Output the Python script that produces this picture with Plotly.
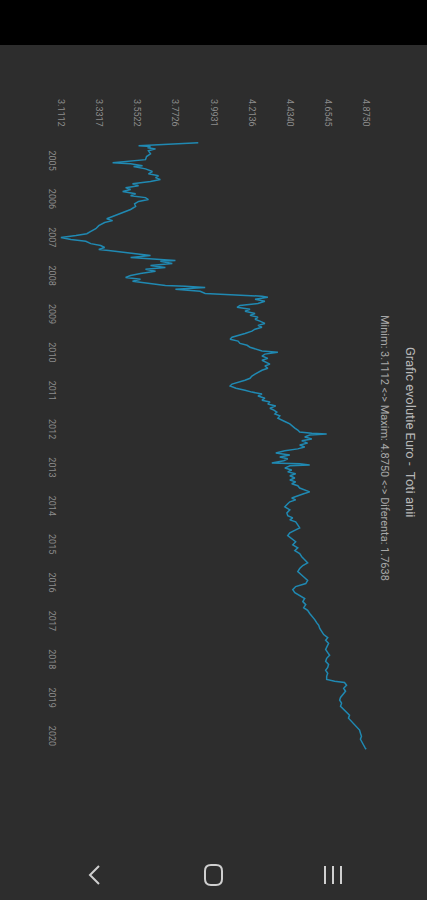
import plotly.graph_objects as go

# ---- data (EUR/RON) ----
years = [2005.00, 2005.03, 2005.05, 2005.08, 2005.10, 2005.13, 2005.16, 2005.21, 2005.29, 2005.36,
         2005.44, 2005.49, 2005.52, 2005.55, 2005.60, 2005.62, 2005.68, 2005.75, 2005.81, 2005.86,
         2005.91, 2005.96, 2006.01, 2006.07, 2006.12, 2006.17, 2006.22, 2006.27, 2006.33, 2006.38,
         2006.43, 2006.48, 2006.53, 2006.59, 2006.66, 2006.74, 2006.82, 2006.87, 2006.92, 2006.98,
         2007.03, 2007.08, 2007.16, 2007.24, 2007.31, 2007.37, 2007.42, 2007.47, 2007.52, 2007.57,
         2007.63, 2007.68, 2007.73, 2007.78, 2007.81, 2007.86, 2007.91, 2007.94, 2007.99, 2008.02,
         2008.07, 2008.09, 2008.15, 2008.20, 2008.25, 2008.30, 2008.35, 2008.41, 2008.46, 2008.51,
         2008.56, 2008.61, 2008.67, 2008.72, 2008.74, 2008.77, 2008.82, 2008.87, 2008.93, 2008.95,
         2008.98, 2009.00, 2009.03, 2009.08, 2009.13, 2009.19, 2009.24, 2009.29, 2009.34, 2009.39,
         2009.45, 2009.50, 2009.55, 2009.60, 2009.65, 2009.71, 2009.76, 2009.81, 2009.86, 2009.91,
         2009.97, 2010.02, 2010.07, 2010.12, 2010.17, 2010.23, 2010.28, 2010.33, 2010.38, 2010.43,
         2010.46, 2010.51, 2010.56, 2010.62, 2010.67, 2010.72, 2010.77, 2010.82, 2010.88, 2010.93,
         2010.98, 2011.03, 2011.08, 2011.14, 2011.19, 2011.24, 2011.29, 2011.34, 2011.40, 2011.45,
         2011.50, 2011.55, 2011.60, 2011.66, 2011.71, 2011.76, 2011.81, 2011.86, 2011.92, 2011.97,
         2012.02, 2012.07, 2012.12, 2012.18, 2012.23, 2012.28, 2012.33, 2012.38, 2012.44, 2012.49,
         2012.54, 2012.57, 2012.59, 2012.62, 2012.67, 2012.72, 2012.77, 2012.83, 2012.88, 2012.93,
         2012.98, 2013.03, 2013.09, 2013.14, 2013.19, 2013.24, 2013.29, 2013.35, 2013.37, 2013.40,
         2013.42, 2013.48, 2013.53, 2013.58, 2013.63, 2013.68, 2013.74, 2013.79, 2013.84, 2013.89,
         2013.94, 2014.00, 2014.05, 2014.10, 2014.15, 2014.20, 2014.26, 2014.31, 2014.36, 2014.41,
         2014.49, 2014.57, 2014.65, 2014.72, 2014.78, 2014.83, 2014.88, 2014.96, 2015.04, 2015.09,
         2015.17, 2015.24, 2015.32, 2015.40, 2015.48, 2015.56, 2015.63, 2015.71, 2015.79, 2015.87,
         2015.95, 2016.02, 2016.10, 2016.18, 2016.26, 2016.34, 2016.41, 2016.49, 2016.57, 2016.65,
         2016.73, 2016.80, 2016.88, 2016.96, 2017.04, 2017.12, 2017.19, 2017.27, 2017.35, 2017.43,
         2017.51, 2017.58, 2017.66, 2017.74, 2017.82, 2017.90, 2017.97, 2018.05, 2018.13, 2018.21,
         2018.29, 2018.36, 2018.44, 2018.52, 2018.60, 2018.68, 2018.75, 2018.83, 2018.91, 2018.99,
         2019.04, 2019.07, 2019.14, 2019.22, 2019.30, 2019.38, 2019.46, 2019.53, 2019.61, 2019.69,
         2019.77, 2019.85, 2019.92, 2020.00, 2020.08, 2020.16, 2020.24, 2020.31, 2020.39, 2020.47,
         2020.55, 2020.63, 2020.70, 2020.78, 2020.81]

rates = [3.905, 3.773, 3.629, 3.560, 3.629, 3.612, 3.658, 3.617, 3.629, 3.606,
         3.600, 3.485, 3.410, 3.514, 3.583, 3.531, 3.600, 3.640, 3.617, 3.675,
         3.658, 3.686, 3.629, 3.525, 3.560, 3.485, 3.514, 3.468, 3.543, 3.514,
         3.600, 3.617, 3.560, 3.537, 3.543, 3.514, 3.468, 3.433, 3.399, 3.376,
         3.410, 3.364, 3.330, 3.313, 3.284, 3.261, 3.198, 3.1112, 3.169, 3.255,
         3.284, 3.341, 3.364, 3.330, 3.387, 3.485, 3.571, 3.629, 3.514, 3.629,
         3.773, 3.686, 3.755, 3.629, 3.715, 3.600, 3.658, 3.571, 3.514, 3.485,
         3.571, 3.525, 3.629, 3.715, 3.830, 3.945, 3.773, 3.916, 3.945, 4.060,
         4.175, 4.273, 4.307, 4.233, 4.290, 4.250, 4.146, 4.129, 4.204, 4.175,
         4.233, 4.204, 4.250, 4.233, 4.261, 4.290, 4.250, 4.273, 4.233, 4.215,
         4.175, 4.135, 4.100, 4.089, 4.135, 4.146, 4.187, 4.204, 4.238, 4.273,
         4.365, 4.290, 4.273, 4.307, 4.273, 4.296, 4.319, 4.290, 4.307, 4.273,
         4.250, 4.233, 4.215, 4.204, 4.175, 4.135, 4.100, 4.089, 4.123, 4.175,
         4.215, 4.273, 4.250, 4.290, 4.273, 4.319, 4.307, 4.353, 4.319, 4.342,
         4.359, 4.348, 4.376, 4.365, 4.394, 4.411, 4.434, 4.445, 4.463, 4.480,
         4.491, 4.561, 4.647, 4.549, 4.520, 4.561, 4.503, 4.537, 4.491, 4.520,
         4.480, 4.405, 4.353, 4.434, 4.376, 4.422, 4.399, 4.330, 4.491, 4.549,
         4.434, 4.405, 4.445, 4.422, 4.468, 4.434, 4.463, 4.434, 4.468, 4.445,
         4.480, 4.491, 4.520, 4.549, 4.514, 4.480, 4.445, 4.468, 4.434, 4.422,
         4.405, 4.434, 4.417, 4.422, 4.451, 4.434, 4.468, 4.480, 4.491, 4.468,
         4.434, 4.422, 4.445, 4.468, 4.451, 4.480, 4.463, 4.491, 4.503, 4.520,
         4.537, 4.509, 4.491, 4.480, 4.503, 4.520, 4.537, 4.526, 4.468, 4.451,
         4.463, 4.491, 4.520, 4.509, 4.526, 4.514, 4.537, 4.549, 4.566, 4.578,
         4.589, 4.601, 4.607, 4.618, 4.630, 4.653, 4.641, 4.658, 4.647, 4.641,
         4.653, 4.664, 4.647, 4.641, 4.658, 4.653, 4.641, 4.653, 4.647, 4.647,
         4.693, 4.750, 4.762, 4.745, 4.756, 4.739, 4.727, 4.722, 4.733, 4.727,
         4.745, 4.762, 4.779, 4.773, 4.791, 4.808, 4.825, 4.837, 4.842, 4.848,
         4.842, 4.854, 4.860, 4.870, 4.8750]

value_ticks = [3.1112, 3.3317, 3.5522, 3.7726, 3.9931, 4.2136, 4.4340, 4.6545, 4.8750]
value_labels = ["3.1112", "3.3317", "3.5522", "3.7726", "3.9931", "4.2136", "4.4340", "4.6545", "4.8750"]
year_labels = [str(y) for y in range(2005, 2021)]
year_ticks = [y + 0.5 for y in range(2005, 2021)]

title_text = "Grafic evolutie Euro -  Toti anii"
subtitle_text = "Minim: 3.1112 <-> Maxim: 4.8750 <-> Diferenta: 1.7638"

# ---- layout geometry (page pixels) ----
W, H = 427, 900
L, R, T, B = 60, 367, 142, 750
BG = "#2d2d2d"


def px(x, y):
    return (x - L) / (R - L), (B - y) / (B - T)


fig = go.Figure()
fig.add_trace(go.Scatter(
    x=rates, y=years, mode="lines",
    line=dict(color="#2089b2", width=1.5),
    hoverinfo="skip", showlegend=False,
))

tick_font = dict(family="Roboto, sans-serif", size=9, color="#8c8c8c")

fig.update_layout(
    width=W, height=H,
    margin=dict(l=L, r=W - R, t=T, b=H - B, pad=0),
    paper_bgcolor=BG, plot_bgcolor=BG,
    showlegend=False,
    xaxis=dict(
        side="top", range=[3.106, 4.880],
        tickvals=value_ticks, ticktext=value_labels,
        tickangle=90, tickfont=tick_font, ticks="",
        ticklabelstandoff=13,
        showgrid=False, zeroline=False, showline=False,
    ),
    yaxis=dict(
        range=[2020.83, 2004.98],
        tickvals=year_ticks, ticktext=year_labels,
        tickangle=90, tickfont=tick_font, ticks="",
        ticklabelstandoff=1,
        showgrid=False, zeroline=False, showline=False,
    ),
)

# status bar
x0, y0 = px(0, 0)
x1, y1 = px(W, 45)
fig.add_shape(type="rect", xref="paper", yref="paper", x0=x0, y0=y0, x1=x1, y1=y1,
              fillcolor="#000000", line=dict(width=0), layer="below")

# title and subtitle (rotated)
tx, ty = px(411, 432)
fig.add_annotation(xref="paper", yref="paper", x=tx, y=ty, text=title_text, showarrow=False,
                   textangle=90, font=dict(family="Roboto, sans-serif", size=13, color="#b8b8b8"),
                   xanchor="center", yanchor="middle")
sx, sy = px(385, 448)
fig.add_annotation(xref="paper", yref="paper", x=sx, y=sy, text=subtitle_text, showarrow=False,
                   textangle=90, font=dict(family="Roboto, sans-serif", size=11, color="#a8a8a8"),
                   xanchor="center", yanchor="middle")

# navigation bar icons
nav = dict(color="#cfcfcf", width=2)


def path(points, close=False):
    s = ""
    for i, (x, y) in enumerate(points):
        X, Y = px(x, y)
        s += ("M" if i == 0 else "L") + f"{X},{Y} "
    return s + ("Z" if close else "")


def rounded_rect(xa, ya, xb, yb, r):
    P = lambda x, y: "{},{}".format(*px(x, y))
    s = f"M{P(xa + r, ya)} L{P(xb - r, ya)} Q{P(xb, ya)} {P(xb, ya + r)} "
    s += f"L{P(xb, yb - r)} Q{P(xb, yb)} {P(xb - r, yb)} "
    s += f"L{P(xa + r, yb)} Q{P(xa, yb)} {P(xa, yb - r)} "
    s += f"L{P(xa, ya + r)} Q{P(xa, ya)} {P(xa + r, ya)} Z"
    return s


fig.add_shape(type="path", xref="paper", yref="paper",
              path=path([(99, 866), (90, 875), (99, 884)]), line=nav)
fig.add_shape(type="path", xref="paper", yref="paper",
              path=rounded_rect(205, 865, 222, 885, 6), line=nav)
for lx in (325, 333, 341):
    fig.add_shape(type="path", xref="paper", yref="paper",
                  path=path([(lx, 866), (lx, 884)]), line=nav)

fig.write_html("out.html", config={"displayModeBar": False},
               post_script="document.body.style.margin='0';document.body.style.overflow='hidden';")
